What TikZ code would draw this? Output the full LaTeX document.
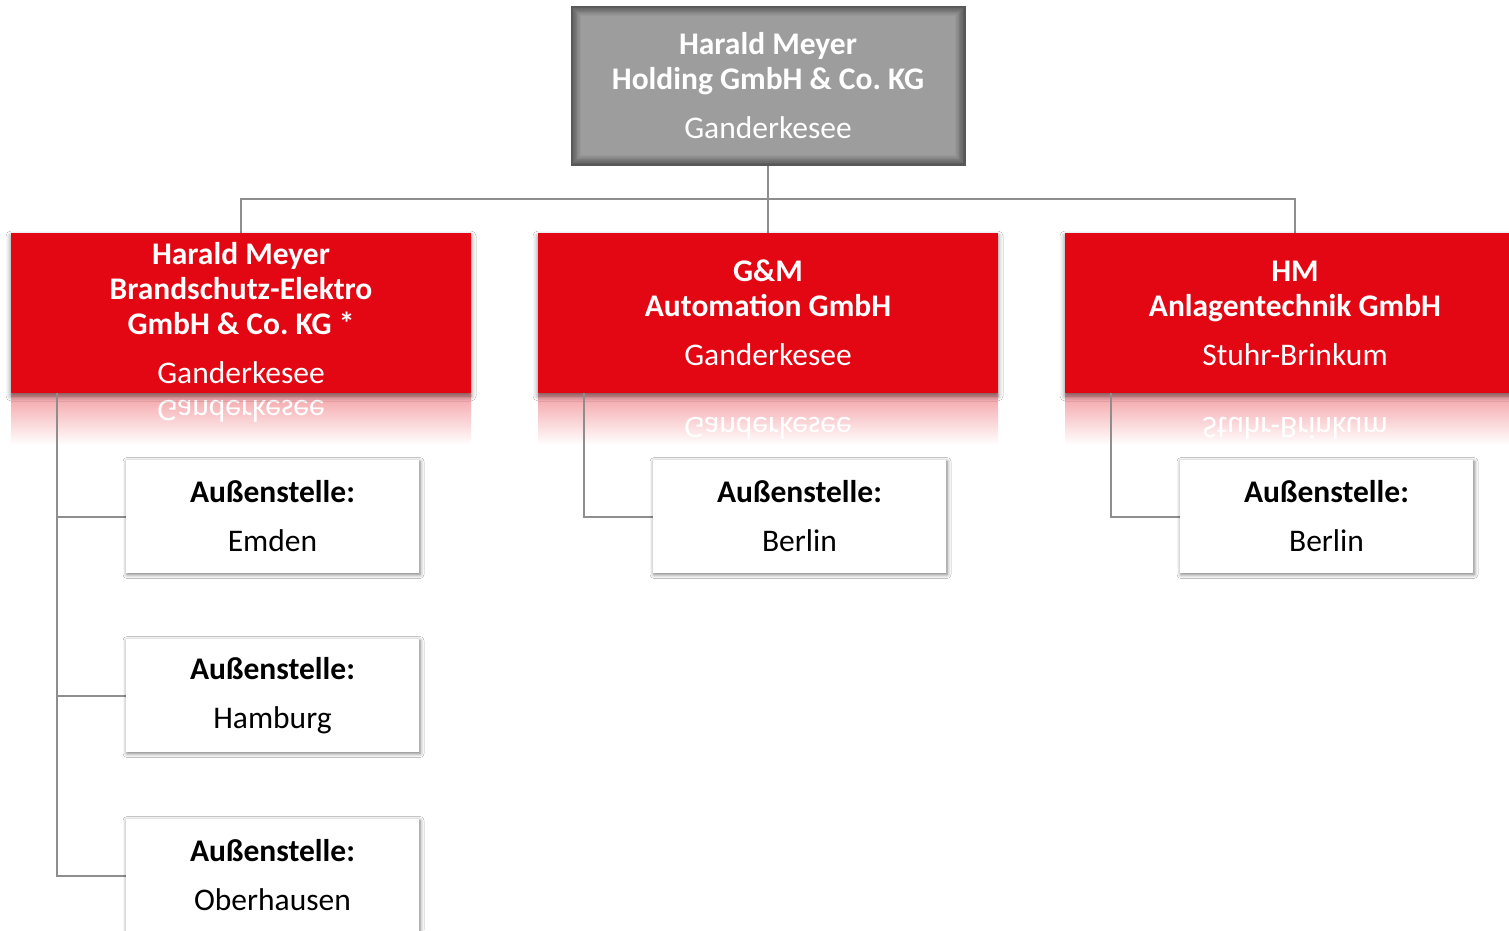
\documentclass[tikz,border=0pt]{standalone}
\usepackage{fontspec}
\setmainfont{Carlito}
\usetikzlibrary{shadows.blur,calc}
\definecolor{hmred}{HTML}{E30613}
\definecolor{topgray}{HTML}{9D9D9D}
\definecolor{topdark}{HTML}{575757}
\definecolor{conncol}{HTML}{8E8E8E}
\newcommand\boxfont{\fontsize{31.5}{35}\selectfont\frenchspacing}
\tikzset{
  redbox/.style={fill=hmred, text=white, minimum width=460pt, minimum height=160pt,
    inner sep=0pt, align=center, font=\boxfont\bfseries,
    blur shadow={shadow xshift=0pt, shadow yshift=-3pt, shadow blur radius=5pt, shadow opacity=50}},
  whitebox/.style={fill=white, text=black, minimum width=293pt, minimum height=113pt,
    inner sep=0pt, align=center, font=\boxfont\bfseries,
    blur shadow={shadow xshift=1pt, shadow yshift=-1.5pt, shadow blur radius=4pt, shadow opacity=55}},
  topbox/.style={draw=topdark, line width=1pt, text=white, minimum width=394pt, minimum height=159pt,
    inner sep=0pt, align=center, font=\boxfont\bfseries,
    path picture={
      \foreach \i in {0,...,12}{
        \pgfmathsetmacro\p{\i*100/12}
        \fill[topgray!\p!topdark]
          ([shift={(\i*0.8pt,-\i*0.8pt)}]path picture bounding box.north west)
          rectangle ([shift={(-\i*0.8pt,\i*0.8pt)}]path picture bounding box.south east);
      }}},
  reflect/.style={yscale=-1, transform shape, text=white, font=\boxfont},
  refl/.style={top color=hmred!38!white, bottom color=white},
  conn/.style={draw=conncol, line width=2pt}
}
\begin{document}
\begin{tikzpicture}[x=1pt,y=-1pt]
\useasboundingbox (0,0) rectangle (1509,930);
\clip (0,0) rectangle (1509,930);
\fill[white] (0,0) rectangle (1509,930);

% reflections
\shade[refl] (11,393) rectangle (471,445);
\shade[refl] (538,393) rectangle (998,445);
\shade[refl] (1065,393) rectangle (1525,445);
\node[reflect] (r1) at (241,411) {Ganderkesee};
\node[reflect] (r2) at (768,428) {Ganderkesee};
\node[reflect] (r3) at (1295,428) {Stuhr-Brinkum};

% nodes (positions)
\node[topbox] (top) at (768,85.5) {Harald Meyer\\Holding GmbH \& Co. KG\\[14pt]{\mdseries Ganderkesee}};
\coordinate (bus) at (768,199);
\coordinate (c1) at (241,233);
\coordinate (c3) at (1295,233);

% connectors
\draw[conn] (top.south) -- (768,233);
\draw[conn] (c1) |- (bus) -| (c3);

\node[redbox] (red1) at (241,313) {Harald Meyer\\Brandschutz-Elektro\\GmbH \& Co. KG *\\[14pt]{\mdseries Ganderkesee}};
\node[redbox] (red2) at (768,313) {G\&M\\Automation GmbH\\[14pt]{\mdseries Ganderkesee}};
\node[redbox] (red3) at (1295,313) {HM\\Anlagentechnik GmbH\\[14pt]{\mdseries Stuhr-Brinkum}};

\draw[conn] ([xshift=46pt]red1.south west) |- (126,516.5);
\draw[conn] ([xshift=46pt]red1.south west) |- (126,695.5);
\draw[conn] ([xshift=46pt]red1.south west) |- (126,875.5);
\draw[conn] ([xshift=46pt]red2.south west) |- (653,516.5);
\draw[conn] ([xshift=46pt]red3.south west) |- (1180,516.5);

\node[whitebox] (a1) at (272.5,516.5) {Außenstelle:\\[14pt]{\mdseries Emden}};
\node[whitebox] (a2) at (272.5,695.5) {Außenstelle:\\[14pt]{\mdseries Hamburg}};
\node[whitebox] (a3) at (272.5,875.5) {Außenstelle:\\[14pt]{\mdseries Oberhausen}};
\node[whitebox] (b1) at (799.5,516.5) {Außenstelle:\\[14pt]{\mdseries Berlin}};
\node[whitebox] (d1) at (1326.5,516.5) {Außenstelle:\\[14pt]{\mdseries Berlin}};
\end{tikzpicture}
\end{document}
